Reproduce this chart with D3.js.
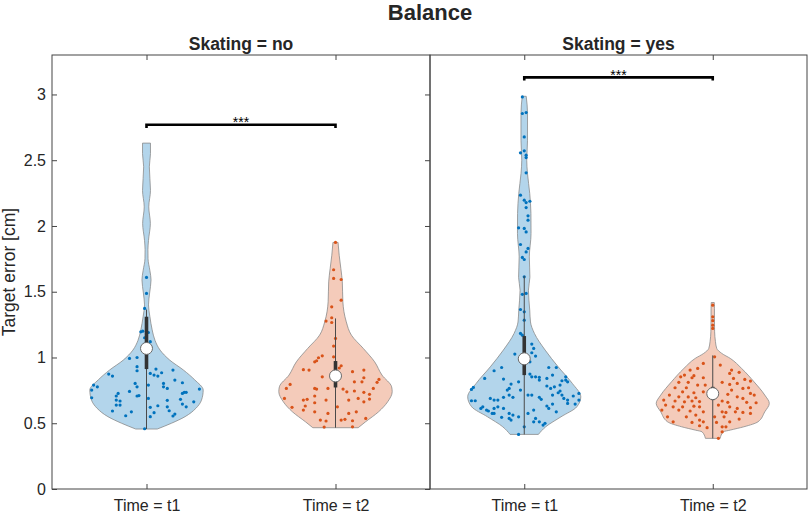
<!DOCTYPE html>
<html><head><meta charset="utf-8">
<script src="https://cdn.jsdelivr.net/npm/d3@7"></script>
<style>
body{margin:0;background:#fff}
svg{display:block}
text{font-family:"Liberation Sans",Arial,Helvetica,sans-serif;fill:#262626}
</style>
</head><body>
<svg id="c" width="810" height="514"></svg>
<script>
// ---------- data ----------
const chartTitle = "Balance";
const panels = ["Skating = no", "Skating = yes"];
const times = ["Time = t1", "Time = t2"];
const yTicks = [0, 0.5, 1, 1.5, 2, 2.5, 3];
const yLabel = "Target error [cm]";
const sigHeight = [2.77, 3.13];
const sigLabel = ["***", "***"];

// violin outline profiles: value and relative half-width
const noT1ProfV = [0.456,0.50,0.55,0.613,0.676,0.752,0.83,0.905,0.98,1.056,1.13,1.21,1.31,1.40,1.49,1.59,1.66,1.75,1.82,1.89,2.02,2.145,2.27,2.45,2.55,2.63];
const noT1ProfW = [0.19,0.44,0.68,0.87,0.97,1.0,0.85,0.65,0.41,0.24,0.15,0.10,0.06,0.035,0.055,0.08,0.06,0.027,0.025,0.035,0.068,0.04,0.07,0.05,0.07,0.07];
const noT2ProfV = [0.466,0.511,0.587,0.663,0.74,0.777,0.866,0.967,1.069,1.17,1.271,1.423,1.575,1.677,1.778,1.875];
const noT2ProfW = [0.40,0.53,0.76,0.92,1.0,0.99,0.82,0.69,0.49,0.28,0.19,0.13,0.12,0.094,0.065,0.045];
const yesT1ProfV = [0.415,0.473,0.549,0.625,0.701,0.803,0.929,1.056,1.183,1.27,1.36,1.512,1.61,1.765,1.943,2.095,2.247,2.4,2.5,2.652,2.855,2.986];
const yesT1ProfW = [0.25,0.38,0.65,0.93,1.0,0.85,0.6,0.37,0.18,0.11,0.097,0.074,0.1,0.09,0.12,0.118,0.097,0.057,0.044,0.058,0.058,0.035];
const yesT2ProfV = [0.385,0.435,0.448,0.473,0.511,0.587,0.651,0.714,0.815,0.917,0.993,1.031,1.069,1.12,1.195,1.30,1.37,1.418];
const yesT2ProfW = [0.13,0.19,0.31,0.55,0.80,0.92,1.0,0.92,0.73,0.51,0.31,0.16,0.07,0.048,0.033,0.03,0.03,0.027];

// box stats: [whisker low, q1, median, q3, whisker high]
const noT1Box = [0.456, 0.912, 1.069, 1.31, 1.365];
const noT2Box = [0.466, 0.772, 0.86, 0.973, 1.297];
const yesT1Box = [0.415, 0.866, 0.99, 1.163, 1.62];
const yesT2Box = [0.385, 0.676, 0.725, 0.777, 1.016];

// individual observations: value and jitter (hundredths of a category step)
const noT1Vals = [1.609,1.487,1.373,1.20,1.195,1.19,1.15,1.12,1.10,0.993,1.0,0.93,0.899,0.912,0.879,0.866,0.859,0.884,0.904,0.874,0.859,0.803,0.777,0.828,0.808,0.803,0.777,0.79,0.765,0.76,0.79,0.777,0.752,0.742,0.727,0.707,0.707,0.71,0.735,0.735,0.689,0.674,0.694,0.676,0.669,0.638,0.638,0.682,0.663,0.646,0.625,0.633,0.621,0.593,0.587,0.557,0.58,0.595,0.55,0.57,0.555,0.458,0.727,0.625];
const noT1Jit  = [0,0,-1,-2,-3,1,-1,2,-1,-9,-5,-5,-5,5,2,4,6,8,14,-20,-18,9,9,15,19,-6,-5,1,11,28,-28,-26,-29,-9,-15,-16,-5,-4,20,21,1,11,-29,-16,-14,-16,-14,18,25,19,21,6,2,-18,-8,-11,4,12,2,15,14,-1,19,11];
const noT2Vals = [1.875,1.667,1.601,1.593,1.436,1.385,1.302,1.266,1.277,1.145,1.087,1.005,1.013,0.998,0.967,0.975,0.937,0.92,0.907,0.904,0.892,0.904,0.853,0.833,0.811,0.846,0.815,0.815,0.795,0.765,0.765,0.76,0.765,0.739,0.76,0.745,0.735,0.765,0.72,0.684,0.689,0.676,0.682,0.707,0.656,0.631,0.676,0.676,0.689,0.663,0.625,0.621,0.60,0.587,0.575,0.587,0.575,0.537,0.524,0.517,0.524,0.53,0.519,0.471,0.473];
const noT2Jit  = [0,-1,-1,3,3,-2,-2,-2,-5,0,-1,-1,-7,-9,-11,-10,3,2,-17,-14,9,15,-7,23,22,15,14,10,-24,-26,-11,-10,-4,6,4,10,15,20,18,18,-27,-17,-15,-11,-11,-16,-5,7,12,15,1,-23,-17,-11,-4,11,7,16,-8,-5,3,5,9,-6,9];
const yesT1Vals = [2.981,2.855,2.862,2.677,2.556,2.571,2.538,2.52,2.404,2.234,2.196,2.178,2.188,2.14,2.077,2.044,1.986,1.981,1.955,1.859,1.829,1.803,1.761,1.745,1.613,1.487,1.48,1.365,1.347,1.284,1.183,1.17,1.102,1.069,1.036,1.026,1.011,0.967,0.924,0.899,0.874,0.853,0.853,0.849,0.924,0.866,0.924,0.836,0.841,0.815,0.752,0.798,0.765,0.752,0.714,0.697,0.697,0.772,0.757,0.671,0.671,0.689,0.676,0.676,0.625,0.613,0.60,0.593,0.575,0.575,0.613,0.625,0.613,0.575,0.537,0.562,0.545,0.549,0.524,0.415,0.473,0.828,0.841,0.783,0.765,0.777,0.79,0.823,0.828,0.815,0.853,0.714,0.714,0.697,0.682,0.714,0.732,0.745,0.714,0.689,0.676,0.651,0.707,0.646,0.676,0.727,0.631,0.613,0.646,0.587,0.60,0.575,0.537,0.511,0.486,0.499,0.511];
const yesT1Jit  = [-1,-1,1,0,-2,0,1,1,1,-2,0,1,3,1,2,2,-3,0,1,-2,2,1,-1,0,0,1,-1,-2,0,0,-2,-1,4,5,4,-5,6,3,-12,-16,3,4,6,8,13,15,17,-11,-21,-3,-2,-7,-8,-9,-8,-11,-6,-27,-28,-28,-26,-18,-16,-14,-22,-23,-20,-19,-17,-16,-16,-14,-11,-8,-8,-6,-12,-3,-7,-3,0,8,12,12,14,16,19,20,22,23,22,2,4,8,9,15,18,19,20,21,23,23,26,27,29,29,12,13,15,17,5,2,6,8,10,11,5];
const yesT2Vals = [1.398,1.309,1.28,1.246,1.221,1.005,0.955,0.942,0.917,0.904,0.904,0.879,0.887,0.866,0.853,0.862,0.846,0.846,0.841,0.833,0.821,0.811,0.811,0.811,0.795,0.803,0.79,0.79,0.77,0.77,0.77,0.765,0.752,0.739,0.732,0.739,0.72,0.727,0.714,0.714,0.701,0.70,0.694,0.701,0.689,0.676,0.669,0.663,0.669,0.665,0.669,0.659,0.659,0.656,0.638,0.625,0.625,0.63,0.625,0.638,0.625,0.613,0.618,0.60,0.60,0.593,0.587,0.587,0.582,0.587,0.582,0.575,0.549,0.549,0.562,0.549,0.549,0.532,0.524,0.511,0.506,0.511,0.511,0.506,0.481,0.473,0.473,0.466,0.435,0.385];
const yesT2Jit  = [0,0,0,0,0,1,-5,4,-8,-12,10,9,14,-15,-17,-10,-11,-5,11,17,20,-18,-13,5,9,13,-8,-4,-20,-14,19,16,10,-16,-10,-5,8,20,22,-23,-18,-13,-9,13,16,-26,-20,-15,-11,-7,5,8,18,23,-25,-21,-16,-10,-7,3,9,13,20,-27,-18,-12,-5,5,7,12,16,20,-24,-14,-9,1,6,14,-7,-21,-11,-5,9,2,-7,5,7,-3,5,3];

// ---------- layout ----------
const svg = d3.select("#c");
const yTop = 55, yBottom = 489;
const panelX = [[52, 430], [430, 807]];
const maxHalf = 0.3;          // half-width of widest violin, in category units
const fills = ["#b3d5eb", "#f4cbba"];
const dots = ["#0072BD", "#D95319"];

const y = d3.scaleLinear().domain([0, 3.3]).range([yBottom, yTop]);

const groups = [
  {p:0, c:1, pv:noT1ProfV, pw:noT1ProfW, box:noT1Box, v:noT1Vals, j:noT1Jit},
  {p:0, c:2, pv:noT2ProfV, pw:noT2ProfW, box:noT2Box, v:noT2Vals, j:noT2Jit},
  {p:1, c:1, pv:yesT1ProfV, pw:yesT1ProfW, box:yesT1Box, v:yesT1Vals, j:yesT1Jit},
  {p:1, c:2, pv:yesT2ProfV, pw:yesT2ProfW, box:yesT2Box, v:yesT2Vals, j:yesT2Jit}
];

const xs = panelX.map(r => d3.scaleLinear().domain([0.5, 2.5]).range(r));

// title
svg.append("text").attr("x", 430).attr("y", 19.5).attr("text-anchor", "middle")
  .attr("font-size", 22).attr("font-weight", "bold").text(chartTitle);

// y label
svg.append("text").attr("transform", `translate(15,${(yTop + yBottom) / 2}) rotate(-90)`)
  .attr("text-anchor", "middle").attr("font-size", 17.5).text(yLabel);

panels.forEach((name, pi) => {
  const x = xs[pi];
  const [x0, x1] = panelX[pi];
  const g = svg.append("g");

  // subplot title
  g.append("text").attr("x", (x0 + x1) / 2).attr("y", 50).attr("text-anchor", "middle")
    .attr("font-size", 17.5).attr("font-weight", "bold").text(name);

  // violins
  groups.filter(d => d.p === pi).forEach(d => {
    const ci = d.c - 1;
    const prof = d.pv.map((v, i) => [v, d.pw[i]]).sort((a, b) => b[0] - a[0]);
    const area = d3.area().curve(d3.curveMonotoneY)
      .y(p => y(p[0]))
      .x0(p => x(d.c - p[1] * maxHalf))
      .x1(p => x(d.c + p[1] * maxHalf));
    g.append("path").attr("d", area(prof))
      .attr("fill", fills[ci]).attr("stroke", "#8a8a8a").attr("stroke-width", 0.8);

    g.append("g").selectAll("circle").data(d.v.map((v, i) => [v, d.j[i]])).join("circle")
      .attr("cx", p => x(d.c + p[1] / 100)).attr("cy", p => y(p[0]))
      .attr("r", 1.6).attr("fill", dots[ci]);

    const [wl, q1, med, q3, wh] = d.box;
    g.append("line").attr("x1", x(d.c)).attr("x2", x(d.c)).attr("y1", y(wl)).attr("y2", y(wh))
      .attr("stroke", "#4a4a4a").attr("stroke-width", 1);
    g.append("line").attr("x1", x(d.c)).attr("x2", x(d.c)).attr("y1", y(q1)).attr("y2", y(q3))
      .attr("stroke", "#333").attr("stroke-width", 3.6);
    g.append("circle").attr("cx", x(d.c)).attr("cy", y(med)).attr("r", 6)
      .attr("fill", "#fff").attr("stroke", "#6a6a6a").attr("stroke-width", 1);
  });

  // significance bracket
  const sy = y(sigHeight[pi]);
  g.append("path").attr("d", `M${x(1)},${sy + 3.2}V${sy}H${x(2)}V${sy + 3.2}`)
    .attr("fill", "none").attr("stroke", "#000").attr("stroke-width", 2.6);
  g.append("text").attr("x", x(1.5)).attr("y", sy + 2.7).attr("text-anchor", "middle")
    .attr("font-size", 14).style("fill", "#000").text(sigLabel[pi]);

  // axes
  const xb = g.append("g").attr("transform", `translate(0,${yBottom})`)
    .call(d3.axisBottom(x).tickValues([1, 2]).tickFormat(i => times[i - 1]).tickSize(-5).tickSizeOuter(0).tickPadding(11));
  const xt = g.append("g").attr("transform", `translate(0,${yTop})`)
    .call(d3.axisTop(x).tickValues([1, 2]).tickFormat("").tickSize(-5).tickSizeOuter(0));
  const axes = [xb, xt];
  if (pi === 0) {
    axes.push(g.append("g").attr("transform", `translate(${x0},0)`)
      .call(d3.axisLeft(y).tickValues(yTicks).tickFormat(d => String(d)).tickSize(-5).tickSizeOuter(0).tickPadding(6)));
    axes.push(g.append("g").attr("transform", `translate(${x1},0)`)
      .call(d3.axisRight(y).tickValues(yTicks).tickFormat("").tickSize(-5).tickSizeOuter(0)));
  }
  axes.forEach(a => {
    a.select(".domain").remove();
    a.selectAll("line").attr("stroke", "#444");
    a.selectAll("text").attr("font-size", 16).attr("font-family", null).attr("fill", "#262626");
  });

  // frame
  g.append("rect").attr("x", x0).attr("y", yTop).attr("width", x1 - x0).attr("height", yBottom - yTop)
    .attr("fill", "none").attr("stroke", "#444").attr("stroke-width", 1);
});
</script>
</body></html>
